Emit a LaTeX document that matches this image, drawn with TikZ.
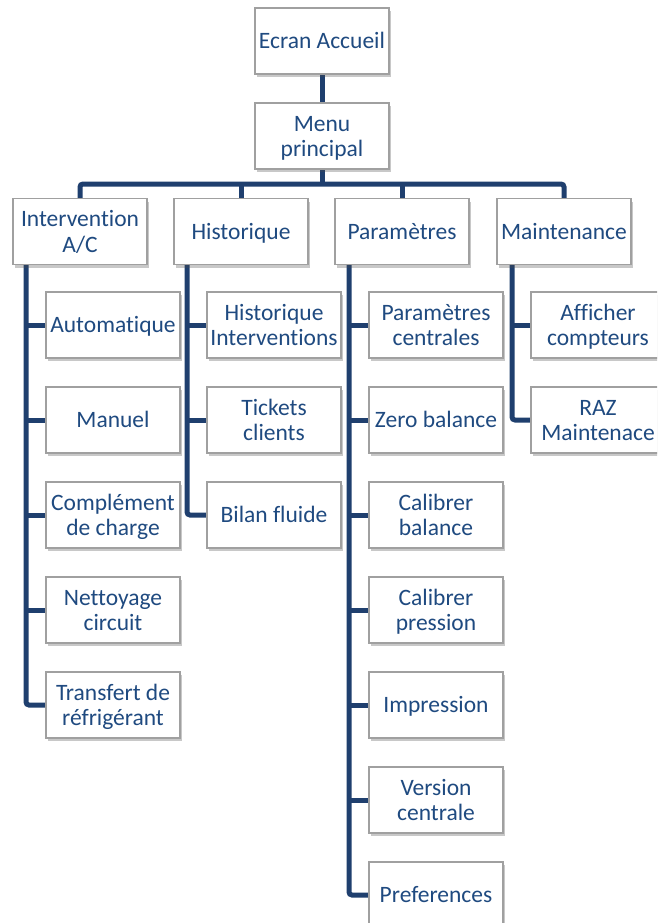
\documentclass[tikz,border=0pt]{standalone}
\usepackage{fontspec}
\setmainfont[Ligatures=NoCommon]{Carlito}
\usetikzlibrary{shadows,backgrounds}
\definecolor{txt}{HTML}{1F4A80}
\definecolor{ln}{HTML}{1F3F6E}
\definecolor{bd}{HTML}{A0A0A0}
\newcommand\bxt[1]{\begin{tabular}{@{}c@{}}\rule{0pt}{23.5pt}#1\end{tabular}}
\begin{document}
\begin{tikzpicture}[x=1pt,y=-1pt,
  box/.style={draw=bd, line width=1.2pt, fill=white, minimum width=134pt, minimum height=66pt,
    inner sep=0pt, text=txt, font=\fontsize{23.5}{25.7}\selectfont,
    drop shadow={shadow xshift=2pt, shadow yshift=-3pt, opacity=0.3, fill=black!70}},
  conn/.style={draw=ln, line width=5pt, rounded corners=3pt}]
\useasboundingbox (0,0) rectangle (657,923);
\clip (0,0) rectangle (657,923);
% top
\node[box] (ecran) at (322,41) {\bxt{Ecran Accueil}};
\node[box] (menu) at (322,136) {\bxt{Menu\\principal}};
% level 1
\node[box] (inter) at (80,231.5) {\bxt{Intervention\\A/C}};
\node[box] (hist) at (241,231.5) {\bxt{Historique}};
\node[box] (param) at (402,231.5) {\bxt{Paramètres}};
\node[box] (maint) at (564,231.5) {\bxt{Maintenance}};
% intervention children
\node[box] (i1) at (113,325) {\bxt{Automatique}};
\node[box] (i2) at (113,420) {\bxt{Manuel}};
\node[box] (i3) at (113,515) {\bxt{Complément\\de charge}};
\node[box] (i4) at (113,610) {\bxt{Nettoyage\\circuit}};
\node[box] (i5) at (113,705) {\bxt{Transfert de\\réfrigérant}};
% historique children
\node[box] (h1) at (274,325) {\bxt{Historique\\Interventions}};
\node[box] (h2) at (274,420) {\bxt{Tickets\\clients}};
\node[box] (h3) at (274,515) {\bxt{Bilan fluide}};
% parametres children
\node[box] (p1) at (436,325) {\bxt{Paramètres\\centrales}};
\node[box] (p2) at (436,420) {\bxt{Zero balance}};
\node[box] (p3) at (436,515) {\bxt{Calibrer\\balance}};
\node[box] (p4) at (436,610) {\bxt{Calibrer\\pression}};
\node[box] (p5) at (436,705) {\bxt{Impression}};
\node[box] (p6) at (436,800) {\bxt{Version\\centrale}};
\node[box] (p7) at (436,895) {\bxt{Preferences}};
% maintenance children
\node[box] (m1) at (598,325) {\bxt{Afficher\\compteurs}};
\node[box] (m2) at (598,420) {\bxt{RAZ\\Maintenace}};
% spine coordinates
\coordinate (bar) at (322,184);
\coordinate (sI) at (26,300);
\coordinate (sH) at (187,300);
\coordinate (sP) at (349,300);
\coordinate (sM) at (512,300);
\begin{scope}[on background layer]
\fill[white] (0,0) rectangle (657,923);
\draw[conn] (ecran) -- (menu);
\draw[conn] (menu.south) -- (menu.south |- bar);
\draw[conn] (inter.north) -- (inter.north |- bar) -- (maint.north |- bar) -- (maint.north);
\draw[conn] (hist.north) -- (hist.north |- bar);
\draw[conn] (param.north) -- (param.north |- bar);
% intervention spine
\draw[conn] (inter.south -| sI) -- (sI |- i5.west) -- (i5.west);
\foreach \c in {i1,i2,i3,i4} \draw[conn] (sI |- \c.west) -- (\c.west);
% historique spine
\draw[conn] (hist.south -| sH) -- (sH |- h3.west) -- (h3.west);
\foreach \c in {h1,h2} \draw[conn] (sH |- \c.west) -- (\c.west);
% parametres spine
\draw[conn] (param.south -| sP) -- (sP |- p7.west) -- (p7.west);
\foreach \c in {p1,p2,p3,p4,p5,p6} \draw[conn] (sP |- \c.west) -- (\c.west);
% maintenance spine
\draw[conn] (maint.south -| sM) -- (sM |- m2.west) -- (m2.west);
\draw[conn] (sM |- m1.west) -- (m1.west);
\end{scope}
\end{tikzpicture}
\end{document}
